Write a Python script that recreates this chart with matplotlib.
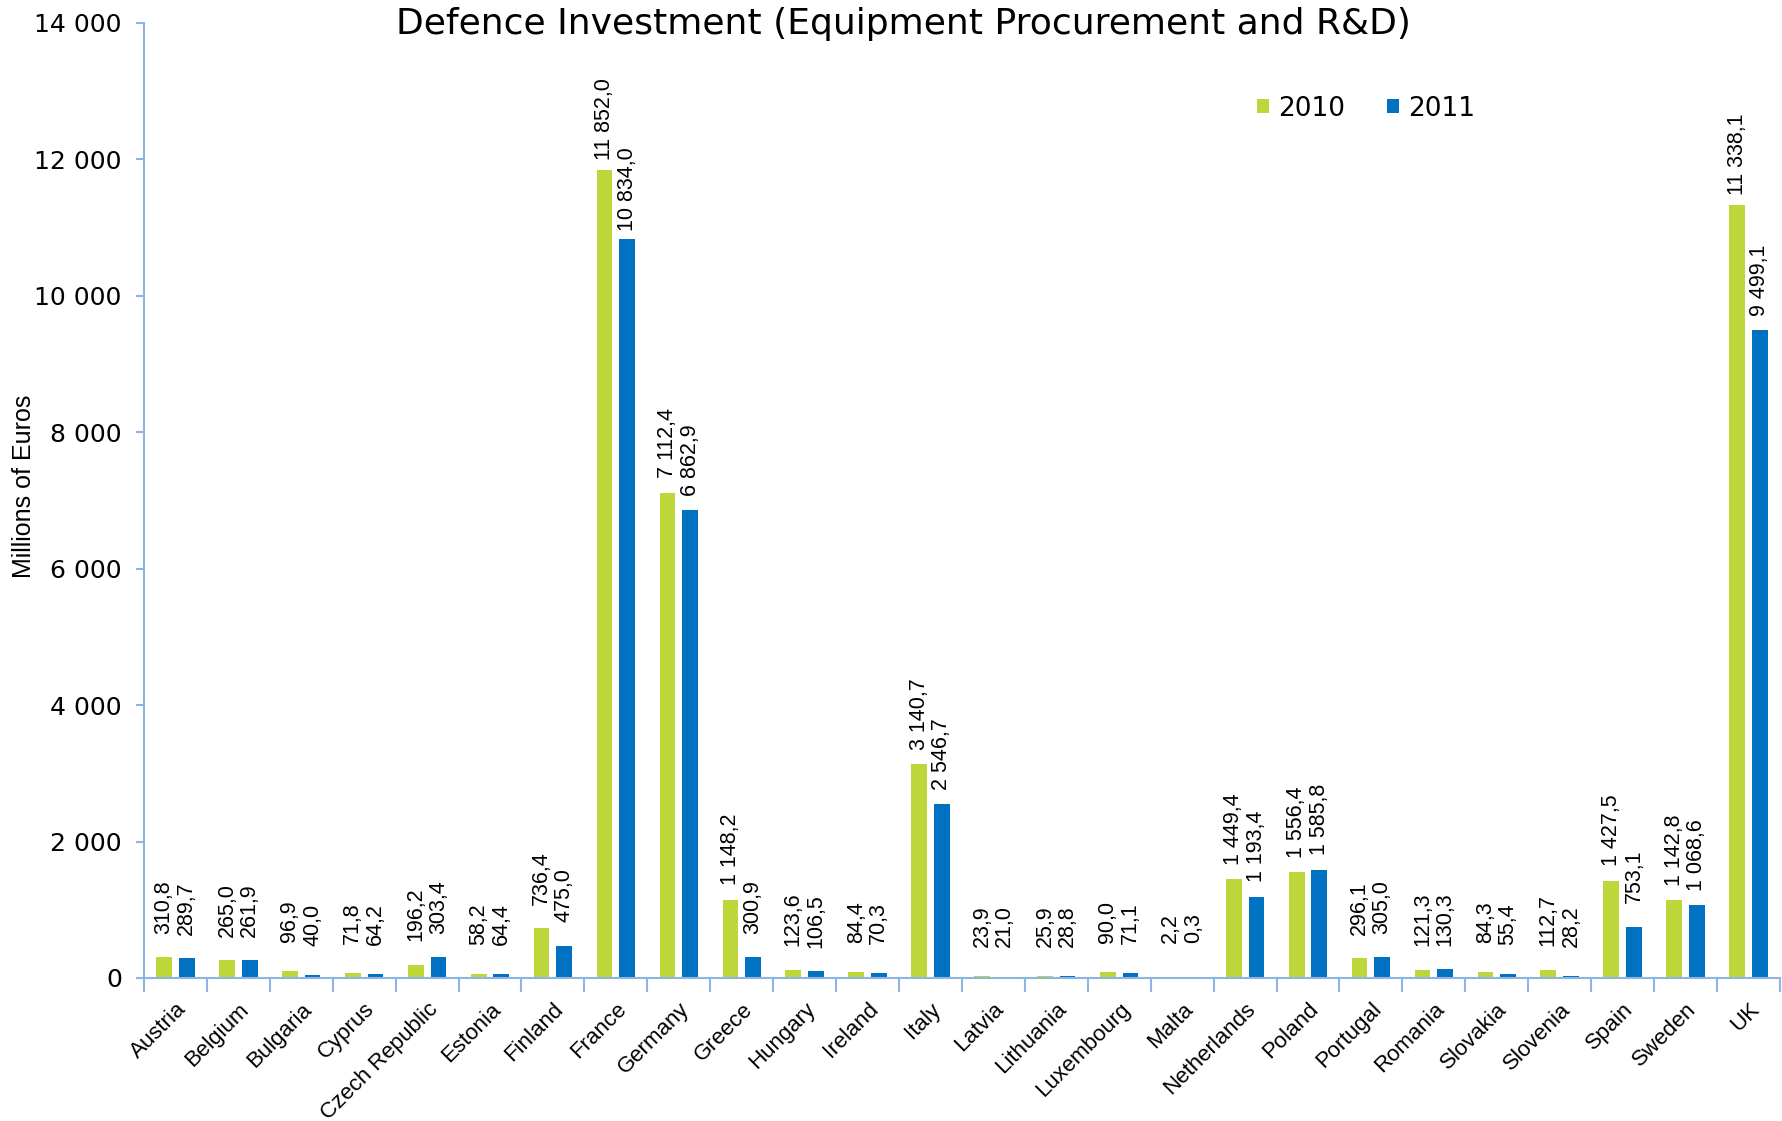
import matplotlib
matplotlib.use("Agg")
import matplotlib.pyplot as plt
from matplotlib.patches import Patch
from matplotlib.ticker import FuncFormatter, FixedLocator
import numpy as np

countries = ["Austria", "Belgium", "Bulgaria", "Cyprus", "Czech Republic", "Estonia",
             "Finland", "France", "Germany", "Greece", "Hungary", "Ireland", "Italy",
             "Latvia", "Lithuania", "Luxembourg", "Malta", "Netherlands", "Poland",
             "Portugal", "Romania", "Slovakia", "Slovenia", "Spain", "Sweden", "UK"]

inv_2010 = [310.8, 265.0, 96.9, 71.8, 196.2, 58.2, 736.4, 11852.0, 7112.4, 1148.2,
            123.6, 84.4, 3140.7, 23.9, 25.9, 90.0, 2.2, 1449.4, 1556.4, 296.1,
            121.3, 84.3, 112.7, 1427.5, 1142.8, 11338.1]
inv_2011 = [289.7, 261.9, 40.0, 64.2, 303.4, 64.4, 475.0, 10834.0, 6862.9, 300.9,
            106.5, 70.3, 2546.7, 21.0, 28.8, 71.1, 0.3, 1193.4, 1585.8, 305.0,
            130.3, 55.4, 28.2, 753.1, 1068.6, 9499.1]

years = ["2010", "2011"]
yticks = [0, 2000, 4000, 6000, 8000, 10000, 12000, 14000]

GREEN = "#BDD63A"
BLUE = "#0072C1"
AXIS = "#8EB4E3"


def eu_fmt(v, decimals=1):
    s = "{:,.{d}f}".format(v, d=decimals)
    return s.replace(",", " ").replace(".", ",")


fig = plt.figure(figsize=(17.82, 11.21), dpi=100)
ax = fig.add_axes([0.0808, 0.1276, 0.918, 0.8519])

x = np.arange(len(countries))
w = 0.25
off = 0.18
bars_a = ax.bar(x - off, inv_2010, width=w, color=GREEN, zorder=2)
bars_b = ax.bar(x + off, inv_2011, width=w, color=BLUE, zorder=2)

# labels sit centred a fixed distance above each bar, like the Excel original
for bars, vals in ((bars_a, inv_2010), (bars_b, inv_2011)):
    for b, v in zip(bars, vals):
        ax.annotate(eu_fmt(v), xy=(b.get_x() + b.get_width() / 2, v),
                    xytext=(0, 36), textcoords="offset points",
                    rotation=90, ha="center", va="center",
                    fontsize=15.5, family="Liberation Sans")

ax.set_xlim(-0.5, len(countries) - 0.5)
ax.set_ylim(0, 14000)

for s in ("top", "right"):
    ax.spines[s].set_visible(False)
for s in ("left", "bottom"):
    ax.spines[s].set_color(AXIS)
    ax.spines[s].set_linewidth(1.5)

ax.yaxis.set_major_locator(FixedLocator(yticks))
ax.yaxis.set_major_formatter(FuncFormatter(lambda v, p: eu_fmt(v, 0)))
ax.tick_params(axis="y", length=6, width=1.5, color=AXIS, labelsize=18, pad=10)

ax.set_xticks(x)
ax.set_xticklabels(countries, rotation=45, ha="right", rotation_mode="anchor",
                   fontsize=16, family="Liberation Sans")
ax.tick_params(axis="x", which="major", length=0, pad=15)
ax.set_xticks(np.arange(len(countries) + 1) - 0.5, minor=True)
ax.tick_params(axis="x", which="minor", length=10, width=1.5, color=AXIS)

ax.set_ylabel("Millions of Euros", fontsize=18, family="Liberation Sans")
ax.yaxis.set_label_coords(-0.066, 0.515)

fig.text(0.507, 0.979, "Defence Investment (Equipment Procurement and R&D)",
         ha="center", va="center", fontsize=26)

handles = [Patch(facecolor=GREEN), Patch(facecolor=BLUE)]
ax.legend(handles, years, ncol=2, frameon=False,
          loc="center left", bbox_to_anchor=(0.692, 0.903),
          bbox_transform=fig.transFigure,
          handlelength=0.45, handleheight=0.45, handletextpad=0.35,
          columnspacing=1.6, prop={"size": 19})

fig.savefig("out.png", dpi=100)
